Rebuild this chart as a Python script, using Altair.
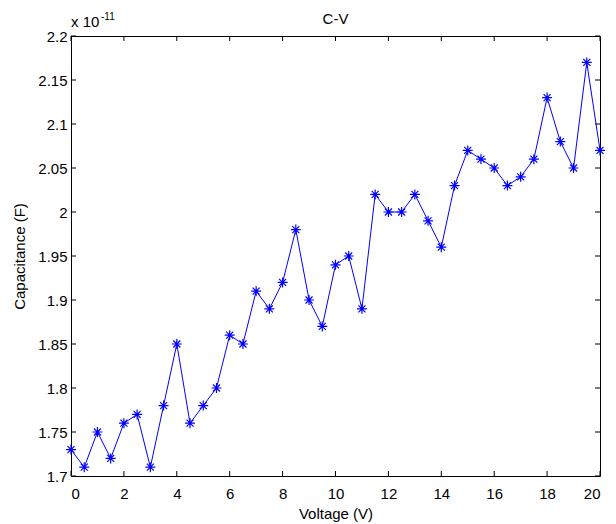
import altair as alt
import pandas as pd

# Voltage (V)
voltage = [0, 0.5, 1, 1.5, 2, 2.5, 3, 3.5, 4, 4.5, 5, 5.5, 6, 6.5, 7, 7.5, 8, 8.5,
           9, 9.5, 10, 10.5, 11, 11.5, 12, 12.5, 13, 13.5, 14, 14.5, 15, 15.5, 16,
           16.5, 17, 17.5, 18, 18.5, 19, 19.5, 20]
# Capacitance in units of 1e-11 F
capacitance = [1.73, 1.71, 1.75, 1.72, 1.76, 1.77, 1.71, 1.78, 1.85, 1.76, 1.78,
               1.80, 1.86, 1.85, 1.91, 1.89, 1.92, 1.98, 1.90, 1.87, 1.94, 1.95,
               1.89, 2.02, 2.00, 2.00, 2.02, 1.99, 1.96, 2.03, 2.07, 2.06, 2.05,
               2.03, 2.04, 2.06, 2.13, 2.08, 2.05, 2.17, 2.07]
x_ticks = [0, 2, 4, 6, 8, 10, 12, 14, 16, 18, 20]
y_ticks = [1.7, 1.75, 1.8, 1.85, 1.9, 1.95, 2.0, 2.05, 2.1, 2.15, 2.2]

W, H = 529, 440
FONT = "Liberation Sans"
BLUE = "#0000ff"

df = pd.DataFrame({"V": voltage, "C": capacitance})
xt = pd.DataFrame({"v": x_ticks})
yt = pd.DataFrame({"v": y_ticks})

xscale = alt.Scale(domain=[0, 20], nice=False, zero=False)
yscale = alt.Scale(domain=[1.7, 2.2], nice=False, zero=False)

xaxis = alt.Axis(values=x_ticks, title="Voltage (V)", labelPadding=10,
                 titleY=42, titleBaseline="alphabetic")
yaxis = alt.Axis(values=y_ticks, title="Capacitance (F)", format=".3~g",
                 labelPadding=4, titleAngle=270, titleX=-47, titleY=H / 2,
                 titleBaseline="alphabetic", titleAlign="center")

base = alt.Chart(df)
line = base.mark_line(color=BLUE, strokeWidth=1).encode(
    x=alt.X("V:Q", scale=xscale, axis=xaxis),
    y=alt.Y("C:Q", scale=yscale, axis=yaxis),
)
star = "M-1,0L1,0M0,-1L0,1M-0.7,-0.7L0.7,0.7M-0.7,0.7L0.7,-0.7"
pts = base.mark_point(shape=star, size=100, color=BLUE, filled=False,
                      strokeWidth=1.2, opacity=1).encode(
    x=alt.X("V:Q", scale=xscale),
    y=alt.Y("C:Q", scale=yscale),
)

tk = 5
xb = alt.Chart(xt).mark_rule(color="black", strokeWidth=1).encode(
    x=alt.X("v:Q", scale=xscale), y=alt.value(H), y2=alt.value(H - tk))
xtop = alt.Chart(xt).mark_rule(color="black", strokeWidth=1).encode(
    x=alt.X("v:Q", scale=xscale), y=alt.value(0), y2=alt.value(tk))
yl = alt.Chart(yt).mark_rule(color="black", strokeWidth=1).encode(
    y=alt.Y("v:Q", scale=yscale), x=alt.value(0), x2=alt.value(tk))
yr = alt.Chart(yt).mark_rule(color="black", strokeWidth=1).encode(
    y=alt.Y("v:Q", scale=yscale), x=alt.value(W), x2=alt.value(W - tk))

title = alt.Chart(pd.DataFrame({"t": ["C-V"]})).mark_text(
    font=FONT, fontSize=15, align="center", baseline="alphabetic", color="black"
).encode(text="t:N", x=alt.value(W / 2), y=alt.value(-12))
exp_base = alt.Chart(pd.DataFrame({"t": ["x 10"]})).mark_text(
    font=FONT, fontSize=15, align="left", baseline="alphabetic", color="black"
).encode(text="t:N", x=alt.value(0), y=alt.value(-9))
exp_sup = alt.Chart(pd.DataFrame({"t": ["-11"]})).mark_text(
    font=FONT, fontSize=10, align="left", baseline="alphabetic", color="black"
).encode(text="t:N", x=alt.value(30), y=alt.value(-16))

chart = alt.layer(line, pts, xb, xtop, yl, yr, title, exp_base, exp_sup).properties(
    width=W, height=H,
    autosize=alt.AutoSizeParams(type="none"),
    padding={"left": 71, "top": 36, "right": 16, "bottom": 48},
    background="white",
).configure_view(
    stroke="black", strokeWidth=1
).configure_axis(
    domain=False, grid=False, ticks=False, tickSize=0,
    labelFont=FONT, labelFontSize=15, labelColor="black",
    titleFont=FONT, titleFontSize=15, titleFontWeight="normal", titleColor="black",
)

chart.save("out.html", embed_options={"renderer": "svg", "actions": False})
